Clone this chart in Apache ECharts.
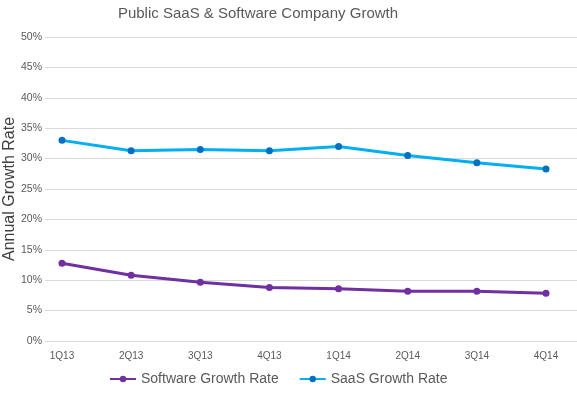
<!DOCTYPE html>
<html><head><meta charset="utf-8">
<script src="https://cdn.jsdelivr.net/npm/echarts@6/dist/echarts.min.js"></script>
<style>html,body{margin:0;padding:0;background:#fff}#c{width:577px;height:395px}</style>
</head><body><div id="c"></div>
<script>
const categories = ['1Q13','2Q13','3Q13','4Q13','1Q14','2Q14','3Q14','4Q14'];
const softwareGrowth = [12.8, 10.8, 9.65, 8.8, 8.6, 8.2, 8.2, 7.85];
const saasGrowth = [33.0, 31.3, 31.5, 31.3, 32.0, 30.5, 29.3, 28.3];
const yTicks = [0, 5, 10, 15, 20, 25, 30, 35, 40, 45, 50];

const font = 'Liberation Sans, Arial, sans-serif';
const chart = echarts.init(document.getElementById('c'));
chart.setOption({
  animation: false,
  title: {
    text: 'Public SaaS & Software Company Growth',
    left: 253, top: 1, textAlign: 'center',
    textStyle: {fontFamily: font, fontSize: 15, fontWeight: 'normal', color: '#595959'}
  },
  legend: {
    bottom: 4, left: 104,
    itemWidth: 26, itemHeight: 8, itemGap: 20,
    textStyle: {fontFamily: font, fontSize: 14, color: '#595959'},
    data: ['Software Growth Rate', 'SaaS Growth Rate']
  },
  grid: [
    {left: 45, right: 0, top: 37, bottom: 54, outerBoundsMode: 'none', containLabel: false},
    {left: 62, right: 31, top: 37, bottom: 54, outerBoundsMode: 'none', containLabel: false}
  ],
  xAxis: [
    {gridIndex: 0, type: 'value', show: false},
    {gridIndex: 1, type: 'category', data: categories, boundaryGap: false,
     axisLine: {show: false}, axisTick: {show: false},
     axisLabel: {fontFamily: font, fontSize: 10, color: '#595959', margin: 10}}
  ],
  yAxis: [
    {gridIndex: 0, type: 'value', min: 0, max: 50, interval: 5,
     name: 'Annual Growth Rate', nameLocation: 'middle', nameGap: 27, nameMoveOverlap: false,
     nameTextStyle: {fontFamily: font, fontSize: 16, color: '#404040'},
     axisLine: {show: false}, axisTick: {show: false},
     axisLabel: {fontFamily: font, fontSize: 10.5, color: '#595959', margin: 3,
                 formatter: v => yTicks.includes(v) ? v + '%' : ''},
     splitLine: {lineStyle: {color: '#D9D9D9', width: 1}}},
    {gridIndex: 1, type: 'value', min: 0, max: 50, interval: 5, show: false,
     splitLine: {show: false}}
  ],
  series: [
    {name: 'Software Growth Rate', type: 'line', xAxisIndex: 1, yAxisIndex: 1,
     data: softwareGrowth, symbol: 'circle', symbolSize: 7,
     lineStyle: {color: '#7030A0', width: 3}, itemStyle: {color: '#7030A0'}},
    {name: 'SaaS Growth Rate', type: 'line', xAxisIndex: 1, yAxisIndex: 1,
     data: saasGrowth, symbol: 'circle', symbolSize: 7,
     lineStyle: {color: '#00B0F0', width: 3}, itemStyle: {color: '#0070C0'}}
  ]
});
</script></body></html>
